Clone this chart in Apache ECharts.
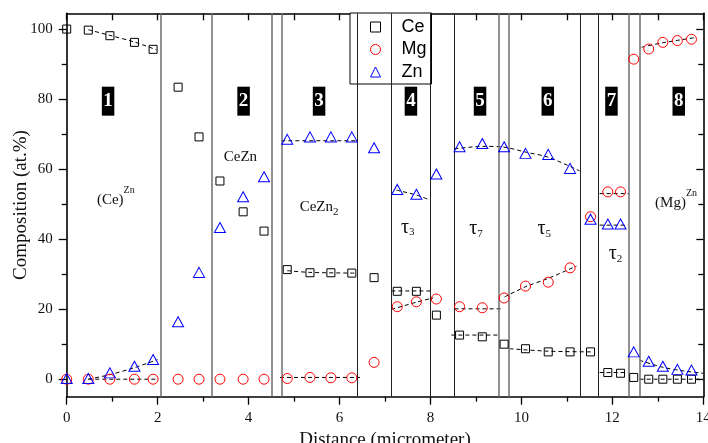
<!DOCTYPE html>
<html><head><meta charset="utf-8">
<script src="https://cdn.jsdelivr.net/npm/echarts@6/dist/echarts.min.js"></script>
<style>html,body{margin:0;padding:0;background:#fff}#c{width:708px;height:443px}</style>
</head><body><div id="c"></div>
<script>
// ---- data ----
const distance = [0, 0.475, 0.95, 1.49, 1.9, 2.45, 2.91, 3.37, 3.88, 4.34, 4.85, 5.35, 5.81, 6.27, 6.76, 7.27, 7.69, 8.13, 8.64, 9.14, 9.62, 10.09, 10.59, 11.07, 11.52, 11.9, 12.18, 12.47, 12.8, 13.11, 13.43, 13.74];
const ceVals = [100, 99.7, 98.1, 96.2, 94.2, 83.4, 69.2, 56.6, 47.8, 42.3, 31.3, 30.4, 30.4, 30.3, 29.0, 25.1, 25.1, 18.3, 12.6, 12.1, 10.0, 8.7, 7.8, 7.8, 7.8, 1.9, 1.7, 0.5, 0, 0, 0, 0];
const mgVals = [0, 0, 0, 0, 0, 0, 0, 0, 0, 0, 0.2, 0.5, 0.4, 0.4, 4.8, 20.7, 22.1, 22.9, 20.7, 20.4, 23.2, 26.6, 27.7, 31.8, 46.4, 53.5, 53.5, 91.4, 94.3, 96.2, 96.7, 97.1];
const znVals = [0.2, 0.2, 1.8, 3.7, 5.6, 16.4, 30.5, 43.3, 52.1, 57.8, 68.5, 69.2, 69.2, 69.2, 66.1, 54.2, 52.8, 58.6, 66.4, 67.3, 66.4, 64.5, 64.2, 60.2, 45.7, 44.3, 44.3, 7.8, 5.1, 3.7, 2.8, 2.6];

// dashed trend lines per phase ([x, y] pairs)
const fitLines = [
  [[0.475, 99.8], [0.95, 98.2], [1.49, 96.3], [1.97, 94.1]],
  [[0.475, 0], [1.97, 0]],
  [[0.475, 0], [0.95, 1.3], [1.49, 3.3], [2.0, 5.6]],
  [[4.85, 31.0], [5.35, 30.5], [6.37, 30.3]],
  [[4.69, 0.5], [6.45, 0.5]],
  [[4.72, 68.1], [6.41, 68.1]],
  [[7.14, 25.2], [8.0, 25.2]],
  [[7.14, 19.9], [7.69, 22.0], [8.06, 23.2]],
  [[7.25, 54.0], [7.69, 52.6], [8.0, 51.1]],
  [[8.46, 12.6], [9.52, 12.6]],
  [[8.53, 20.1], [9.55, 20.1]],
  [[8.53, 65.8], [9.16, 66.5], [9.6, 66.3], [10.11, 64.8], [10.59, 63.4], [11.28, 59.5]],
  [[9.74, 8.7], [10.59, 8.0], [11.54, 7.8]],
  [[9.63, 23.5], [10.09, 26.4], [10.59, 28.8], [11.21, 32.3]],
  [[11.72, 1.9], [12.34, 1.9]],
  [[11.72, 53.0], [12.37, 53.0]],
  [[11.72, 44.0], [12.34, 44.0]],
  [[12.6, 0], [14.0, 0]],
  [[12.64, 94.8], [13.11, 96.1], [13.85, 97.6]],
  [[12.6, 5.4], [13.11, 3.4], [13.6, 2.3], [14.0, 1.7]]
];

const grayBounds = [2.07, 3.19, 4.5, 4.73, 9.5, 9.72, 12.37, 12.6];
const blackBounds = [6.39, 7.13, 8.0, 8.52, 11.3, 11.69];

const zoneNames = ['1', '2', '3', '4', '5', '6', '7', '8'];
const zoneX = [0.91, 3.89, 5.55, 7.57, 9.09, 10.58, 11.98, 13.46];
const zoneY = 79.4;

const phaseNames = ['(Ce){sup|Zn}', 'CeZn', 'CeZn{sub|2}', '{tau|τ}{sub|3}', '{tau|τ}{sub|7}', '{tau|τ}{sub|5}', '{tau|τ}{sub|2}', '(Mg){sup|Zn}'];
const phaseX = [1.08, 3.82, 5.55, 7.5, 9.0, 10.5, 12.07, 13.4];
const phaseY = [51.1, 63.5, 49.2, 43.3, 42.9, 42.9, 35.7, 50.3];

const yMajor = [0, 20, 40, 60, 80, 100];
const yMinor = [10, 30, 50, 70, 90];
const xTicks = [0, 14, 2];

// ---- chart ----
const SERIF = '"Liberation Serif", "Times New Roman", serif';
const SANS = '"Liberation Sans", Arial, sans-serif';
const AX = '#000';
const chart = echarts.init(document.getElementById('c'), null, {renderer: 'canvas'});

const yBase = {type: 'value', min: -5, max: 104.5, splitLine: {show: false}, minorSplitLine: {show: false}};
function yAx(extra) { return Object.assign({}, yBase, extra); }

const series = [];
function marker(name, symbol, size, color, vals) {
  return {
    name: name, type: 'scatter', symbol: symbol, symbolSize: size, clip: false, z: 5,
    itemStyle: {color: 'rgba(255,255,255,0)', borderColor: color, borderWidth: 1, opacity: 1},
    emphasis: {disabled: true},
    data: distance.map((x, i) => [x, vals[i]])
  };
}
series.push(marker('Ce', 'rect', 8, '#000', ceVals));
series.push(marker('Mg', 'circle', 10, '#ff0000', mgVals));
series.push(marker('Zn', 'triangle', [11, 10], '#0000ff', znVals));
fitLines.forEach((pts) => {
  series.push({
    type: 'line', data: pts, symbol: 'none', smooth: pts.length > 2 ? 0.3 : false, silent: true, z: 3,
    lineStyle: {color: '#000', width: 1, type: [4, 3]}
  });
});
function boundsSeries(vals, color, width) {
  return {
    type: 'line', data: [], silent: true, z: 2,
    markLine: {silent: true, symbol: ['none', 'none'], label: {show: false}, animation: false,
      lineStyle: {color: color, width: width, type: 'solid'},
      emphasis: {disabled: true},
      data: vals.map(v => ({xAxis: v}))}
  };
}
series.push(boundsSeries(grayBounds, '#6e6e6e', 1.5));
series.push(boundsSeries(blackBounds, '#222', 1));
series.push({
  type: 'scatter', symbolSize: 1, silent: true, z: 8, itemStyle: {color: 'rgba(0,0,0,0)', opacity: 1},
  data: zoneX.map((x, i) => [x, zoneY, zoneNames[i]]),
  label: {show: true, position: 'inside', formatter: p => p.value[2], color: '#fff', backgroundColor: '#000',
    opacity: 1, fontFamily: SERIF, fontWeight: 'bold', fontSize: 19, lineHeight: 20, padding: [5, 1.5, 4, 1.5]}
});
series.push({
  type: 'scatter', symbolSize: 1, silent: true, z: 8, itemStyle: {color: 'rgba(0,0,0,0)', opacity: 1},
  data: phaseX.map((x, i) => [x, phaseY[i], phaseNames[i]]),
  label: {show: true, position: 'inside', formatter: p => p.value[2], color: '#111', opacity: 1,
    fontFamily: SERIF, fontSize: 15, verticalAlign: 'middle',
    rich: {
      sup: {fontFamily: SERIF, fontSize: 10, color: '#111', verticalAlign: 'middle', padding: [0, 0, 20, 0]},
      sub: {fontFamily: SERIF, fontSize: 11, color: '#111', verticalAlign: 'middle', padding: [10, 0, 0, 0]},
      tau: {fontFamily: SERIF, fontSize: 20, color: '#111', verticalAlign: 'middle'}
    }}
});

const option = {
  animation: false,
  backgroundColor: '#fff',
  grid: {left: 66.7, right: 4.7, top: 13.3, bottom: 46.3, outerBoundsMode: 'none', containLabel: false},
  legend: {
    data: ['Ce', 'Mg', 'Zn'], orient: 'vertical', left: 350, top: 13,
    itemWidth: 10, itemHeight: 10, itemGap: 4.5, padding: [5, 5, 3, 20],
    backgroundColor: '#fff', borderColor: '#000', borderWidth: 1, borderRadius: 0,
    selectedMode: false, itemStyle: {borderWidth: 1},
    formatter: name => '{s| }' + name,
    textStyle: {fontFamily: SANS, fontSize: 18, color: '#000', rich: {s: {width: 16, fontSize: 18}}}
  },
  xAxis: [
    {type: 'value', position: 'bottom', min: xTicks[0], max: xTicks[1], interval: xTicks[2],
      axisLine: {show: true, onZero: false, lineStyle: {color: AX, width: 1.6}},
      axisTick: {show: true, inside: false, length: 8, lineStyle: {color: AX, width: 1.3}},
      minorTick: {show: true, splitNumber: 2, length: 5, lineStyle: {color: AX, width: 1.3}},
      axisLabel: {margin: 14, fontFamily: SERIF, fontSize: 15, color: '#111'},
      splitLine: {show: false}, minorSplitLine: {show: false},
      name: 'Distance (micrometer)', nameLocation: 'middle', nameGap: 34, nameMoveOverlap: false,
      nameTextStyle: {fontFamily: SERIF, fontSize: 19, color: '#111'}},
    {type: 'value', position: 'top', min: xTicks[0], max: xTicks[1], interval: xTicks[2],
      axisLine: {show: true, onZero: false, lineStyle: {color: AX, width: 1.6}},
      axisTick: {show: true, inside: true, length: 7, lineStyle: {color: AX, width: 1.3}},
      minorTick: {show: true, splitNumber: 2, length: 7, lineStyle: {color: AX, width: 1.3}},
      axisLabel: {show: false}, splitLine: {show: false}, minorSplitLine: {show: false}}
  ],
  yAxis: [
    yAx({position: 'left',
      axisLine: {show: true, onZero: false, lineStyle: {color: AX, width: 1.6}},
      axisTick: {show: true, inside: false, length: 8, customValues: yMajor, lineStyle: {color: AX, width: 1.3}},
      axisLabel: {show: true, margin: 14, customValues: yMajor, fontFamily: SERIF, fontSize: 15, color: '#111'},
      name: 'Composition (at.%)', nameLocation: 'middle', nameGap: 36, nameMoveOverlap: false,
      nameTextStyle: {fontFamily: SERIF, fontSize: 19, color: '#111'}}),
    yAx({position: 'left',
      axisLine: {show: false, onZero: false},
      axisTick: {show: true, inside: false, length: 5, customValues: yMinor, lineStyle: {color: AX, width: 1.3}},
      axisLabel: {show: false}}),
    yAx({position: 'right',
      axisLine: {show: true, onZero: false, lineStyle: {color: AX, width: 1.6}},
      axisTick: {show: true, inside: true, length: 7, customValues: yMajor, lineStyle: {color: AX, width: 1.3}},
      axisLabel: {show: false}}),
    yAx({position: 'right',
      axisLine: {show: false, onZero: false},
      axisTick: {show: true, inside: true, length: 5, customValues: yMinor, lineStyle: {color: AX, width: 1.3}},
      axisLabel: {show: false}})
  ],
  series: series
};
chart.setOption(option);
</script>
</body></html>
